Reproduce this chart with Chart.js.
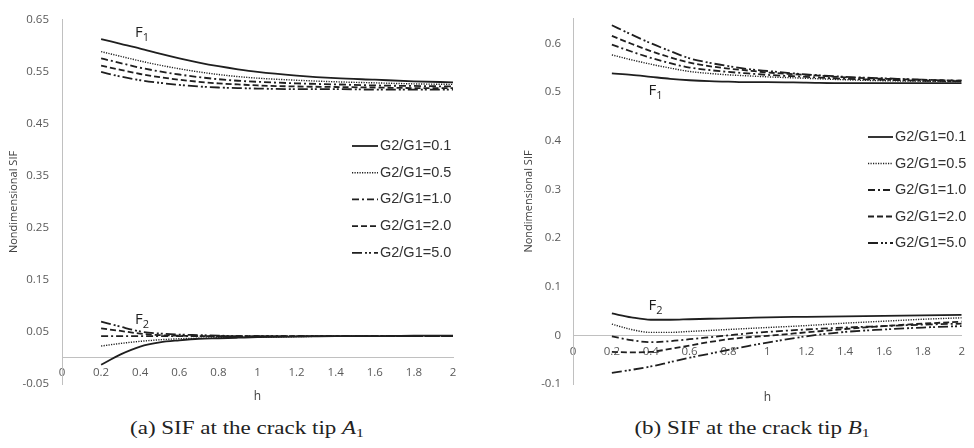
<!DOCTYPE html>
<html>
<head>
<meta charset="utf-8">
<script src="https://cdn.jsdelivr.net/npm/chart.js@4.4.0/dist/chart.umd.min.js"></script>
<style>
    body { margin: 0; background: #fff; width: 974px; height: 448px; position: relative; overflow: hidden; }
    .panel { position: absolute; top: 0; width: 487px; height: 412px; }
    .cap { position: absolute; top: 417px; font-family: "Liberation Serif", "Times New Roman", serif; font-size: 19px; color: #222; white-space: nowrap; transform: translateX(-50%) scaleX(1.21); }
    .cap i { font-style: italic; }
    .cap sub { font-size: 13px; vertical-align: -3px; }
</style>
</head>
<body>
<div class="panel" style="left:0"><canvas id="chartA" width="487" height="412"></canvas></div>
<div class="panel" style="left:487px"><canvas id="chartB" width="487" height="412"></canvas></div>
<div class="cap" style="left:247px">(a) SIF at the crack tip <i>A</i><sub>1</sub></div>
<div class="cap" style="left:752px">(b) SIF at the crack tip <i>B</i><sub>1</sub></div>
<script>
// Dữ liệu
const hValues = [0.2, 0.3, 0.4, 0.5, 0.6, 0.7, 0.8, 0.9, 1.0, 1.2, 1.4, 1.6, 1.8, 2.0];
const ratioLabels = ['G2/G1=0.1', 'G2/G1=0.5', 'G2/G1=1.0', 'G2/G1=2.0', 'G2/G1=5.0'];

// đỉnh vết nứt A1
const tipA_F1 = [
    [0.613, 0.604, 0.595, 0.585, 0.576, 0.568, 0.561, 0.555, 0.550, 0.543, 0.538, 0.535, 0.532, 0.530],
    [0.589, 0.580, 0.571, 0.563, 0.556, 0.550, 0.545, 0.541, 0.538, 0.534, 0.531, 0.529, 0.527, 0.526],
    [0.576, 0.567, 0.558, 0.551, 0.545, 0.540, 0.536, 0.533, 0.531, 0.528, 0.526, 0.524, 0.523, 0.522],
    [0.562, 0.554, 0.546, 0.540, 0.535, 0.531, 0.528, 0.526, 0.524, 0.522, 0.521, 0.520, 0.519, 0.519],
    [0.550, 0.541, 0.534, 0.529, 0.525, 0.522, 0.520, 0.519, 0.518, 0.517, 0.517, 0.516, 0.516, 0.516]
];
const tipA_F2 = [
    [-0.013, 0.007, 0.022, 0.030, 0.034, 0.037, 0.038, 0.039, 0.040, 0.041, 0.042, 0.042, 0.043, 0.043],
    [0.023, 0.028, 0.032, 0.035, 0.037, 0.038, 0.039, 0.040, 0.040, 0.041, 0.042, 0.042, 0.043, 0.043],
    [0.042, 0.042, 0.042, 0.042, 0.042, 0.042, 0.042, 0.042, 0.042, 0.042, 0.042, 0.042, 0.042, 0.042],
    [0.057, 0.052, 0.047, 0.044, 0.043, 0.042, 0.042, 0.042, 0.042, 0.042, 0.042, 0.042, 0.042, 0.042],
    [0.070, 0.060, 0.051, 0.047, 0.045, 0.044, 0.043, 0.042, 0.042, 0.042, 0.042, 0.042, 0.042, 0.042]
];

// đỉnh vết nứt B1
const tipB_F1 = [
    [0.538, 0.535, 0.531, 0.527, 0.524, 0.522, 0.521, 0.520, 0.520, 0.519, 0.518, 0.518, 0.518, 0.518],
    [0.576, 0.566, 0.557, 0.549, 0.542, 0.538, 0.535, 0.533, 0.531, 0.528, 0.525, 0.523, 0.522, 0.521],
    [0.597, 0.583, 0.570, 0.559, 0.550, 0.545, 0.541, 0.538, 0.535, 0.531, 0.527, 0.525, 0.523, 0.522],
    [0.615, 0.599, 0.584, 0.571, 0.560, 0.553, 0.548, 0.544, 0.540, 0.535, 0.530, 0.527, 0.525, 0.523],
    [0.637, 0.618, 0.600, 0.584, 0.569, 0.560, 0.553, 0.547, 0.543, 0.536, 0.531, 0.528, 0.525, 0.523]
];
const tipB_F2 = [
    [0.045, 0.037, 0.032, 0.032, 0.033, 0.034, 0.035, 0.036, 0.037, 0.038, 0.039, 0.040, 0.041, 0.042],
    [0.023, 0.012, 0.006, 0.006, 0.008, 0.010, 0.012, 0.014, 0.016, 0.020, 0.025, 0.029, 0.033, 0.036],
    [-0.002, -0.010, -0.014, -0.012, -0.008, -0.004, 0.000, 0.004, 0.007, 0.012, 0.016, 0.019, 0.022, 0.024],
    [-0.034, -0.035, -0.034, -0.028, -0.021, -0.014, -0.008, -0.004, -0.001, 0.006, 0.013, 0.019, 0.024, 0.028],
    [-0.077, -0.071, -0.064, -0.055, -0.046, -0.038, -0.030, -0.022, -0.015, -0.002, 0.007, 0.012, 0.016, 0.019]
];

const xTicks = { min: 0, max: 2, step: 0.2 };

// Kiểu nét cho từng tỉ số G2/G1
const lineStyles = [
    { dash: [], width: 1.8 },
    { dash: [1.2, 1.3], width: 1.4 },
    { dash: [7, 3, 2, 3], width: 1.8 },
    { dash: [6, 3], width: 1.8 },
    { dash: [10, 3, 2, 2, 2, 3], width: 1.8 }
];
const lineColor = '#1f1f1f';
const tickFont = { family: 'Open Sans', size: 11.5 };

function makeDatasets(f1, f2) {
    const sets = [];
    [f1, f2].forEach(group => {
        group.forEach((vals, i) => {
            sets.push({
                label: ratioLabels[i],
                data: hValues.map((h, k) => ({ x: h, y: vals[k] })),
                borderColor: lineColor,
                borderWidth: lineStyles[i].width,
                borderDash: lineStyles[i].dash,
                pointRadius: 0,
                fill: false,
                cubicInterpolationMode: 'monotone'
            });
        });
    });
    return sets;
}

// Chú thích tự vẽ bên trong vùng đồ thị
const sifLegend = {
    id: 'sifLegend',
    afterDraw(chart, args, opts) {
        const ctx = chart.ctx;
        ctx.save();
        ctx.font = '14.5px "Liberation Sans", Arial, sans-serif';
        ctx.textBaseline = 'middle';
        ctx.fillStyle = '#333';
        ratioLabels.forEach((lab, i) => {
            const y = opts.y + i * opts.rowH;
            ctx.strokeStyle = lineColor;
            ctx.lineWidth = lineStyles[i].width;
            ctx.setLineDash(lineStyles[i].dash);
            ctx.beginPath();
            ctx.moveTo(opts.x, y);
            ctx.lineTo(opts.x + opts.lineLen, y);
            ctx.stroke();
            ctx.setLineDash([]);
            ctx.fillText(lab, opts.x + opts.lineLen + 2, y);
        });
        ctx.restore();
    }
};

// Nhãn F1, F2 trên đồ thị
const fLabels = {
    id: 'fLabels',
    afterDraw(chart, args, opts) {
        const ctx = chart.ctx;
        const xs = chart.scales.x, ys = chart.scales.y;
        ctx.save();
        ctx.fillStyle = '#1f1f1f';
        ctx.textBaseline = 'alphabetic';
        opts.items.forEach(it => {
            const px = xs.getPixelForValue(it.h);
            const py = ys.getPixelForValue(it.v);
            ctx.font = '15px "Open Sans", sans-serif';
            ctx.fillText('F', px, py);
            const w = ctx.measureText('F').width;
            ctx.font = '11px "Open Sans", sans-serif';
            ctx.fillText(it.sub, px + w, py + 4);
        });
        ctx.restore();
    }
};

function makeChart(id, f1, f2, cfg) {
    return new Chart(document.getElementById(id), {
        type: 'line',
        data: { datasets: makeDatasets(f1, f2) },
        plugins: [sifLegend, fLabels],
        options: {
            responsive: false,
            animation: false,
            layout: { padding: { left: 0, top: 10, right: cfg.padRight, bottom: 28 } },
            plugins: {
                legend: { display: false },
                tooltip: { enabled: false },
                sifLegend: cfg.legend,
                fLabels: { items: cfg.fItems }
            },
            scales: {
                x: {
                    type: 'linear',
                    min: xTicks.min,
                    max: xTicks.max,
                    position: { y: 0 },
                    grid: { display: false, drawTicks: false },
                    border: { color: '#c0c0c0', width: 1 },
                    ticks: {
                        stepSize: xTicks.step,
                        padding: cfg.xPad,
                        color: '#595959',
                        font: tickFont,
                        maxRotation: 0,
                        autoSkip: false,
                        callback: v => String(+v.toFixed(1))
                    },
                    title: {
                        display: true,
                        text: 'h',
                        color: '#404040',
                        font: { family: 'Open Sans', size: 12 },
                        padding: { top: cfg.hPad, bottom: 0 }
                    }
                },
                y: {
                    min: cfg.yMin,
                    max: cfg.yMax,
                    grid: { display: false, drawTicks: false },
                    border: { color: '#c0c0c0', width: 1 },
                    ticks: {
                        stepSize: 0.1,
                        includeBounds: cfg.yBounds,
                        padding: cfg.yPad,
                        color: '#595959',
                        font: tickFont,
                        callback: v => String(+v.toFixed(2))
                    },
                    title: {
                        display: true,
                        text: 'Nondimensional SIF',
                        color: '#404040',
                        font: { family: 'Open Sans', size: 11 },
                        padding: { top: cfg.titlePad, bottom: 0 }
                    },
                    afterFit: s => { s.width = cfg.yWidth; }
                }
            }
        }
    });
}

makeChart('chartA', tipA_F1, tipA_F2, {
    yMin: -0.05, yMax: 0.65, yBounds: true,
    padRight: 34, yWidth: 62, yPad: 13, xPad: 8, hPad: 2, titlePad: 7,
    legend: { x: 352, y: 146, lineLen: 26, rowH: 26.7 },
    fItems: [{ sub: '1', h: 0.373, v: 0.618 }, { sub: '2', h: 0.373, v: 0.066 }]
});

makeChart('chartB', tipB_F1, tipB_F2, {
    yMin: -0.1, yMax: 0.65, yBounds: false,
    padRight: 9, yWidth: 86, yPad: 12, xPad: 9, hPad: 23, titlePad: 35,
    legend: { x: 381, y: 137, lineLen: 25, rowH: 26.5 },
    fItems: [{ sub: '1', h: 0.388, v: 0.494 }, { sub: '2', h: 0.388, v: 0.052 }]
});
</script>
</body>
</html>
